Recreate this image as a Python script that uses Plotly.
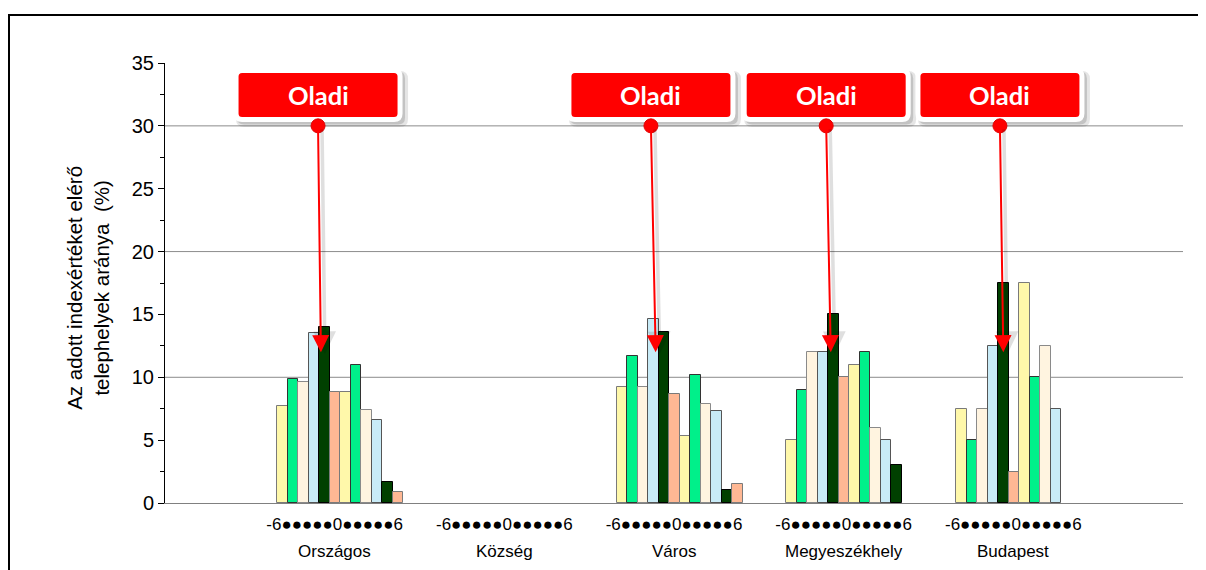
import plotly.graph_objects as go

# ---------------- data ----------------
categories = ["Országos", "Község", "Város", "Megyeszékhely", "Budapest"]
index_values = [-6, -5, -4, -3, -2, -1, 0, 1, 2, 3, 4, 5, 6]
index_tick_label = "-6●●●●●0●●●●●6"

orszagos = [7.7, 9.9, 9.6, 13.5, 14.0, 8.8, 8.8, 11.0, 7.4, 6.6, 1.7, 0.85, 0]
kozseg = [0, 0, 0, 0, 0, 0, 0, 0, 0, 0, 0, 0, 0]
varos = [9.2, 11.7, 9.2, 14.6, 13.6, 8.7, 5.3, 10.2, 7.85, 7.3, 1.0, 1.5, 0]
megyeszekhely = [5.0, 9.0, 12.0, 12.0, 15.0, 10.0, 11.0, 12.0, 6.0, 5.0, 3.0, 0, 0]
budapest = [7.5, 5.0, 7.5, 12.5, 17.5, 2.5, 17.5, 10.0, 12.5, 7.5, 0, 0, 0]
series = [orszagos, kozseg, varos, megyeszekhely, budapest]

callout_text = "Oladi"
callout_groups = ["Országos", "Város", "Megyeszékhely", "Budapest"]

y_ticks = [0, 5, 10, 15, 20, 25, 30, 35]
grid_levels = [10, 20, 30]

# ---------------- styles / layout constants ----------------
FONT = "Liberation Sans, Arial, sans-serif"
palette = ["#FFF8AA", "#00F08A", "#FFF4E0", "#C8EBF7", "#004000", "#FFB894"]
outline = ["#7a7a7a", "#333333", "#8a8a8a", "#555555", "#000000", "#7a7a7a"]
BAR_W = 0.0619
BAR_SHIFT = 4.95

# callout geometry (data units): dot x, tip x
dot_x = [0.902, 2.864, 3.897, 4.921]
tip_x = [0.919, 2.892, 3.924, 4.941]
DOT_Y = 30
TIP_Y = 12.0
BOX_Y = 32.45

xs, ys, cols, lcols = [], [], [], []
for g, vals in enumerate(series):
    for i, v in enumerate(vals):
        if v <= 0:
            continue
        xs.append((g + 1) + (i - BAR_SHIFT) * BAR_W)
        ys.append(v)
        cols.append(palette[i % 6])
        lcols.append(outline[i % 6])

fig = go.Figure()
fig.add_trace(go.Bar(
    x=xs, y=ys, width=BAR_W,
    marker=dict(color=cols, line=dict(color=lcols, width=1)),
    hoverinfo="y", showlegend=False,
))

shapes = []
for lv in grid_levels:
    shapes.append(dict(type="line", xref="paper", x0=0, x1=1, yref="y", y0=lv, y1=lv,
                       line=dict(color="#8c8c8c", width=1), layer="below"))

# outer frame
shapes.append(dict(type="rect", xref="paper", yref="paper",
                   x0=(9 - 165) / 1018, x1=1.2, y0=-0.3, y1=(503 - 15) / 440,
                   line=dict(color="black", width=2), fillcolor="rgba(0,0,0,0)"))


def rrect(hw, hh, r, dx=0, dy=0):
    x0, x1 = -hw + dx, hw + dx
    y0, y1 = -hh + dy, hh + dy
    return (f"M{x0 + r},{y0} L{x1 - r},{y0} Q{x1},{y0} {x1},{y0 + r} "
            f"L{x1},{y1 - r} Q{x1},{y1} {x1 - r},{y1} L{x0 + r},{y1} "
            f"Q{x0},{y1} {x0},{y1 - r} L{x0},{y0 + r} Q{x0},{y0} {x0 + r},{y0} Z")


annotations = []
for j, grp in enumerate(callout_groups):
    dx = dot_x[j]
    # shadow
    shapes.append(dict(type="path", xref="x", yref="y", xsizemode="pixel", ysizemode="pixel",
                       xanchor=dx, yanchor=BOX_Y, path=rrect(86, 28, 8, 4, -4),
                       fillcolor="rgba(0,0,0,0.10)", line=dict(width=0), layer="above"))
    shapes.append(dict(type="path", xref="x", yref="y", xsizemode="pixel", ysizemode="pixel",
                       xanchor=dx, yanchor=BOX_Y, path=rrect(84, 26.5, 7, 3, -3),
                       fillcolor="rgba(0,0,0,0.15)", line=dict(width=0), layer="above"))
    # box
    shapes.append(dict(type="path", xref="x", yref="y", xsizemode="pixel", ysizemode="pixel",
                       xanchor=dx, yanchor=BOX_Y, path=rrect(82, 24.5, 6),
                       fillcolor="#FF0000", line=dict(color="white", width=5), layer="above"))
    # dot
    shapes.append(dict(type="circle", xref="x", yref="y", xsizemode="pixel", ysizemode="pixel",
                       xanchor=dx, yanchor=DOT_Y, x0=-7, x1=7, y0=-7, y1=7,
                       fillcolor="#FF0000", line=dict(color="#E00000", width=1), layer="above"))
    # arrow shadow
    annotations.append(dict(x=tip_x[j], y=TIP_Y, ax=dx, ay=DOT_Y, axref="x", ayref="y",
                            xref="x", yref="y", text="", showarrow=True, arrowhead=2,
                            arrowsize=1.3, arrowwidth=3.5, arrowcolor="rgba(0,0,0,0.12)",
                            xshift=4, yshift=-2))
    # arrow
    annotations.append(dict(x=tip_x[j], y=TIP_Y, ax=dx, ay=DOT_Y, axref="x", ayref="y",
                            xref="x", yref="y", text="", showarrow=True, arrowhead=2,
                            arrowsize=1.7, arrowwidth=2, arrowcolor="#FF0000"))
    # label
    annotations.append(dict(x=dx, y=BOX_Y, xref="x", yref="y", text="<b>" + callout_text + "</b>",
                            showarrow=False, xanchor="center", yanchor="middle",
                            font=dict(family="Lato, sans-serif", size=25.5, color="white")))

# category names
for g, name in enumerate(categories):
    annotations.append(dict(x=g + 1, y=(503 - 551) / 440, xref="x", yref="paper", text=name,
                            showarrow=False, xanchor="center", yanchor="middle",
                            font=dict(family=FONT, size=17, color="black")))

# y axis title
annotations.append(dict(x=(88 - 165) / 1018, y=0.489, xref="paper", yref="paper",
                        text="Az adott indexértéket elérő<br>telephelyek aránya \u00a0(%)",
                        textangle=-90, showarrow=False, xanchor="center", yanchor="middle",
                        font=dict(family=FONT, size=20.5, color="black")))

fig.update_layout(
    width=1206, height=570,
    margin=dict(l=157, r=31, t=55, b=75),
    paper_bgcolor="white", plot_bgcolor="white",
    font=dict(family=FONT, color="black"),
    shapes=shapes, annotations=annotations,
    xaxis=dict(range=[0, 6], tickvals=[g + 1 for g in range(len(categories))],
               ticktext=[index_tick_label] * len(categories),
               showgrid=False, zeroline=False, showline=True, linecolor="#808080", linewidth=1,
               ticks="", tickfont=dict(family=FONT, size=17, color="black"),
               ticklabelstandoff=6),
    yaxis=dict(range=[0, 35], tickvals=y_ticks, showgrid=False, zeroline=False,
               showline=True, linecolor="black", linewidth=1,
               ticks="outside", ticklen=6, tickcolor="black", tickwidth=1,
               minor=dict(dtick=2.5, ticks="outside", ticklen=4, tickcolor="black", showgrid=False),
               tickfont=dict(family=FONT, size=20, color="black")),
    bargap=0,
)

fig.write_html("out.html")
